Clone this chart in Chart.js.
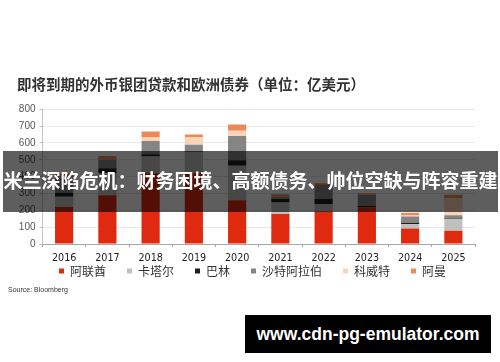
<!DOCTYPE html>
<html><head><meta charset="utf-8">
<script src="https://cdn.jsdelivr.net/npm/chart.js@4.4.1/dist/chart.umd.min.js"></script>
<style>
html,body{margin:0;padding:0;background:#fff;}
#wrap{position:relative;width:500px;height:362px;overflow:hidden;background:#fff;}
#c{position:absolute;left:0;top:0;}
.title{position:absolute;left:17px;top:76px;font:bold 14.5px 'Noto Sans CJK SC';color:#333;line-height:16px;white-space:nowrap;}
.src{position:absolute;left:8px;top:286px;font:7px 'Liberation Sans';color:#333;line-height:8px;white-space:nowrap;}
.banner{position:absolute;left:3px;top:151px;width:495px;height:61px;background:rgba(0,0,0,0.63);color:#fff;font:bold 19px 'Noto Sans CJK SC';text-align:center;line-height:57px;white-space:nowrap;}
.wm{position:absolute;left:245px;top:315px;width:246px;height:38px;background:#000;color:#fff;font:bold 17.5px 'Liberation Sans';text-align:center;line-height:38px;white-space:nowrap;}
</style></head>
<body>
<div id="wrap">
<canvas id="c" width="500" height="362"></canvas>
<div class="title">即将到期的外币银团贷款和欧洲债券（单位：亿美元）</div>
<div class="src">Source: Bloomberg</div>
<div class="banner">米兰深陷危机：财务困境、高额债务、帅位空缺与阵容重建</div>
<div class="wm">www.cdn-pg-emulator.com</div>
</div>
<script>
const categories = ['2016','2017','2018','2019','2020','2021','2022','2023','2024','2025'];
const seriesNames = ['阿联酋','卡塔尔','巴林','沙特阿拉伯','科威特','阿曼'];
const uae     = [220, 290, 420, 420, 260, 178, 195, 218, 92, 79];
const qatar   = [60, 130, 99, 125, 204, 69, 43, 0, 26, 68];
const bahrain = [25, 30, 14, 5, 34, 20, 30, 8, 8, 4];
const saudi   = [90, 50, 79, 40, 144, 14, 83, 67, 38, 20];
const kuwait  = [0, 0, 20, 45, 30, 0, 0, 0, 5, 100];
const oman    = [25, 23, 36, 15, 38, 14, 10, 8, 17, 22];
const yTicks  = [0,100,200,300,400,500,600,700,800];

const colors = ['#df2a10','#c0c0c0','#1e1e1e','#858585','#fbd3b8','#eb8a58'];
const values = [uae, qatar, bahrain, saudi, kuwait, oman];

const X_AXIS_H = 20;
const legendShift = {
  id: 'legendShift',
  afterLayout(chart) {
    const lg = chart.legend;
    if (lg) { lg.top -= X_AXIS_H; lg.bottom -= X_AXIS_H; }
  }
};

new Chart(document.getElementById('c'), {
  type: 'bar',
  plugins: [legendShift],
  data: {
    labels: categories,
    datasets: values.map((v,i)=>({
      label: seriesNames[i], data: v, backgroundColor: colors[i],
      borderWidth: 0, categoryPercentage: 1, barPercentage: 0.42, yAxisID: 'y'
    }))
  },
  options: {
    responsive: false, animation: false, devicePixelRatio: 1,
    layout: { padding: { left: 15, right: 10, top: 109.3, bottom: 75 - X_AXIS_H } },
    plugins: {
      title: { display: false }, tooltip: { enabled: false },
      legend: {
        position: 'bottom',
        labels: { boxWidth: 5, boxHeight: 5, padding: 21, color: '#333',
          font: { size: 12, family: "'Noto Sans CJK SC'" } }
      }
    },
    scales: {
      x: {
        stacked: true,
        afterFit: s => { s.height = X_AXIS_H; },
        grid: { drawOnChartArea: false, drawTicks: true, tickLength: 3, tickColor: '#a6a6a6', offset: true },
        border: { color: '#a6a6a6', width: 1 },
        ticks: { color: '#222', padding: 5, font: { size: 10.7, family: "'Liberation Sans Narrow','DejaVu Sans Condensed',sans-serif" } }
      },
      y: {
        stacked: true, min: 0, max: 800,
        afterFit: s => { s.width = 27.5; },
        afterBuildTicks: s => { s.ticks = yTicks.map(v => ({ value: v })); },
        grid: { color: '#e8e8e8', tickColor: '#bdbdbd', tickLength: 3, drawTicks: true },
        border: { color: '#c4c4c4', width: 1 },
        ticks: { color: '#555', padding: 4, font: { size: 10, family: "'Liberation Sans'" } }
      },
      yR: {
        position: 'right', display: true,
        afterFit: s => { s.width = 15; },
        grid: { display: false }, border: { display: false }, ticks: { display: false }
      }
    }
  }
});
</script>
</body></html>
